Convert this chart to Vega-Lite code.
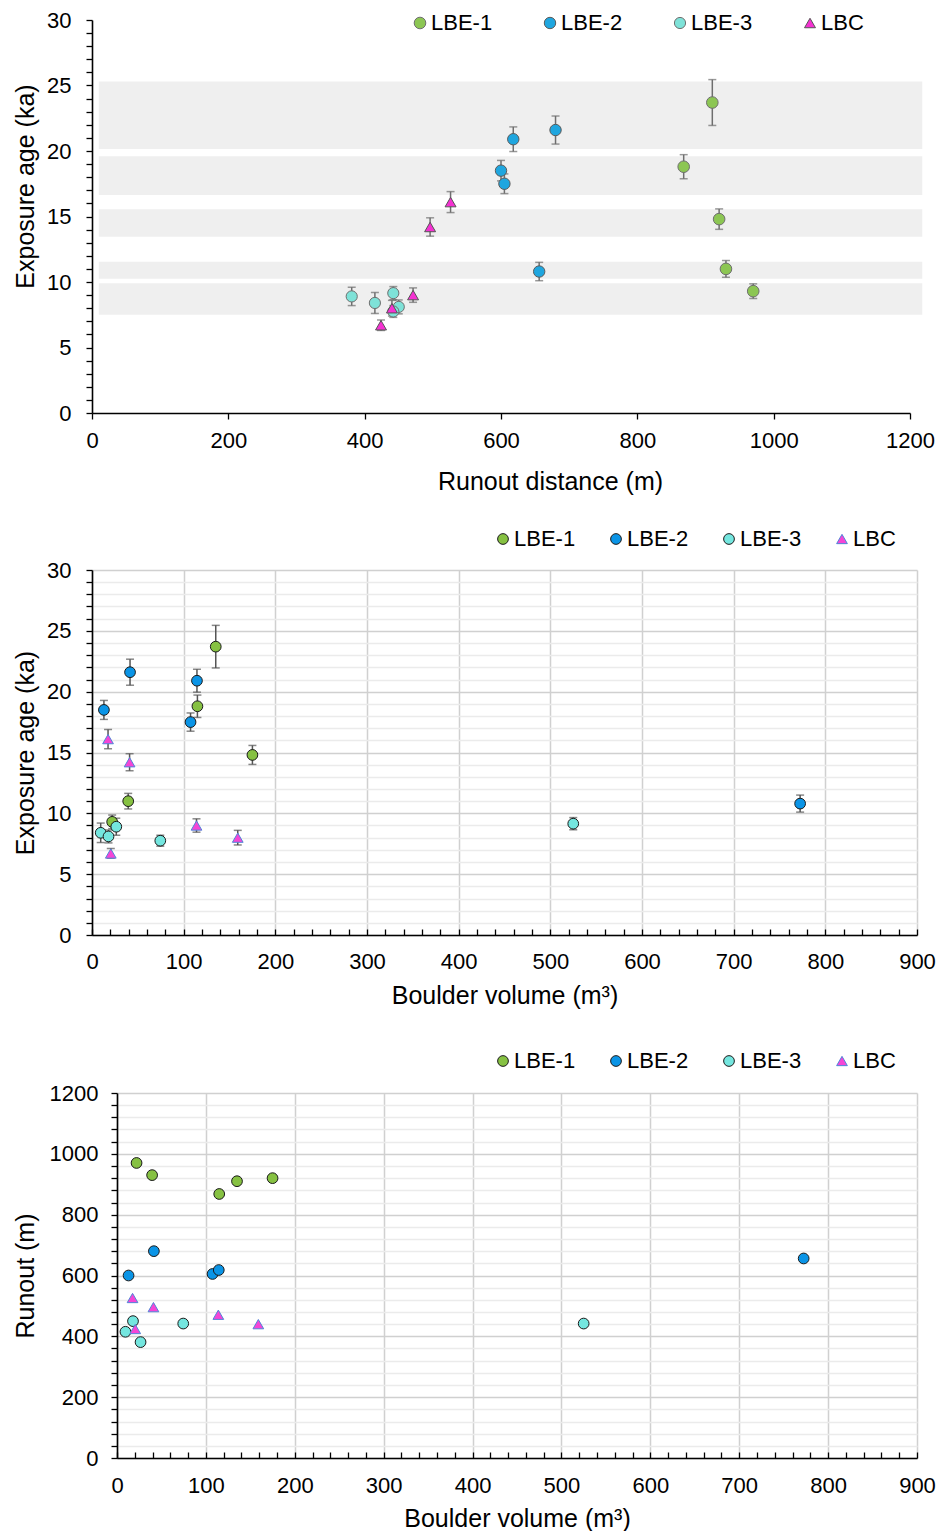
{
  "$schema": "https://vega.github.io/schema/vega-lite/v6.json",
  "padding": {"left": 12, "top": 9, "right": 2, "bottom": 0},
  "config": {
    "view": {"stroke": null},
    "font": "Liberation Sans",
    "axis": {"labelFont": "Liberation Sans", "titleFont": "Liberation Sans", "labelFontSize": 22, "titleFontSize": 25, "titleFontWeight": "normal", "labelColor": "#000", "titleColor": "#000", "domainColor": "#000", "domainWidth": 1.6, "tickColor": "#000", "tickWidth": 1.3, "labelFlush": false, "labelOverlap": false, "labelBound": false, "minExtent": 0, "format": "d"},
    "legend": {"labelFont": "Liberation Sans", "labelFontSize": 22, "labelColor": "#000"}
  },
  "datasets": {
    "samples": [
      {"group": "LBE-1", "runout": 970, "age": 9.3, "err": 0.56, "volume": 22},
      {"group": "LBE-1", "runout": 930, "age": 11.0, "err": 0.64, "volume": 39.5},
      {"group": "LBE-1", "runout": 868, "age": 18.8, "err": 0.92, "volume": 115},
      {"group": "LBE-1", "runout": 910, "age": 23.7, "err": 1.75, "volume": 135},
      {"group": "LBE-1", "runout": 920, "age": 14.8, "err": 0.78, "volume": 175},
      {"group": "LBE-2", "runout": 600, "age": 18.5, "err": 0.78, "volume": 13},
      {"group": "LBE-2", "runout": 680, "age": 21.6, "err": 1.07, "volume": 41.5},
      {"group": "LBE-2", "runout": 605, "age": 17.5, "err": 0.75, "volume": 107.5},
      {"group": "LBE-2", "runout": 618, "age": 20.9, "err": 0.94, "volume": 114.5},
      {"group": "LBE-2", "runout": 656, "age": 10.8, "err": 0.7, "volume": 772.5},
      {"group": "LBE-3", "runout": 415, "age": 8.4, "err": 0.8, "volume": 9.5},
      {"group": "LBE-3", "runout": 450, "age": 8.1, "err": 0.53, "volume": 18},
      {"group": "LBE-3", "runout": 381, "age": 8.9, "err": 0.7, "volume": 26.5},
      {"group": "LBE-3", "runout": 442, "age": 7.75, "err": 0.45, "volume": 74.5},
      {"group": "LBE-3", "runout": 442, "age": 9.15, "err": 0.5, "volume": 525},
      {"group": "LBC", "runout": 526, "age": 16.1, "err": 0.8, "volume": 17.5},
      {"group": "LBC", "runout": 496, "age": 14.2, "err": 0.7, "volume": 41},
      {"group": "LBC", "runout": 471, "age": 9.0, "err": 0.55, "volume": 114},
      {"group": "LBC", "runout": 440, "age": 8.0, "err": 0.6, "volume": 159},
      {"group": "LBC", "runout": 424, "age": 6.7, "err": 0.4, "volume": 20.5}
    ],
    "bands": [
      {"lo": 7.5, "hi": 9.9},
      {"lo": 10.25, "hi": 11.55},
      {"lo": 13.45, "hi": 15.55},
      {"lo": 16.65, "hi": 19.6},
      {"lo": 20.15, "hi": 25.3}
    ]
  },
  "spacing": 34,
  "resolve": {
    "scale": {"x": "independent", "y": "independent", "color": "independent", "shape": "independent", "stroke": "independent", "size": "independent"},
    "legend": {"color": "independent", "shape": "independent", "stroke": "independent", "size": "independent"}
  },
  "vconcat": [
    {
      "spacing": 0,
      "resolve": {
        "scale": {"x": "independent", "y": "independent", "color": "independent", "shape": "independent", "stroke": "independent", "size": "independent"},
        "legend": {"color": "independent", "shape": "independent", "stroke": "independent", "size": "independent"}
      },
      "hconcat": [
        {"width": 1, "height": 1, "data": {"values": []}, "mark": {"type": "rect", "opacity": 0}, "encoding": {}},
        {
          "width": 818,
          "height": 393,
          "layer": [
            {
              "data": {"name": "bands"},
              "mark": {"type": "rect", "color": "#efefef"},
              "encoding": {
                "x": {"datum": 10, "type": "quantitative", "scale": {"domain": [0, 1200], "nice": false, "zero": false},
                  "axis": {"title": "Runout distance (m)", "values": [0, 200, 400, 600, 800, 1000, 1200], "grid": false, "tickSize": 6, "labelPadding": 11, "titlePadding": 18, "titleX": 458, "labelOverlap": false}},
                "x2": {"datum": 1218},
                "y": {"field": "lo", "type": "quantitative", "scale": {"domain": [0, 30], "nice": false, "zero": false},
                  "axis": {"title": "Exposure age (ka)", "values": [0,1,2,3,4,5,6,7,8,9,10,11,12,13,14,15,16,17,18,19,20,21,22,23,24,25,26,27,28,29,30], "labelExpr": "datum.value % 5 === 0 ? datum.label : ''", "grid": false, "tickSize": 6, "labelPadding": 15, "titlePadding": 8, "titleY": 166, "labelOverlap": false}},
                "y2": {"field": "hi"}
              }
            },
            {
              "data": {"name": "samples"},
              "mark": {"type": "errorbar", "color": "#6e6e6e", "thickness": 1.5, "size": 8, "ticks": true},
              "encoding": {
                "x": {"field": "runout", "type": "quantitative", "scale": {"domain": [0, 1200], "nice": false, "zero": false},
                  "axis": {"title": "Runout distance (m)", "values": [0, 200, 400, 600, 800, 1000, 1200], "grid": false, "tickSize": 6, "labelPadding": 11, "titlePadding": 18, "titleX": 458, "labelOverlap": false}},
                "y": {"field": "age", "type": "quantitative", "scale": {"domain": [0, 30], "nice": false, "zero": false},
                  "axis": {"title": "Exposure age (ka)", "values": [0,1,2,3,4,5,6,7,8,9,10,11,12,13,14,15,16,17,18,19,20,21,22,23,24,25,26,27,28,29,30], "labelExpr": "datum.value % 5 === 0 ? datum.label : ''", "grid": false, "tickSize": 6, "labelPadding": 15, "titlePadding": 8, "titleY": 166, "labelOverlap": false}},
                "yError": {"field": "err"}
              }
            },
            {
              "data": {"name": "samples"},
              "mark": {"type": "point", "filled": true, "opacity": 1, "strokeWidth": 1},
              "encoding": {
                "x": {"field": "runout", "type": "quantitative", "scale": {"domain": [0, 1200], "nice": false, "zero": false},
                  "axis": {"title": "Runout distance (m)", "values": [0, 200, 400, 600, 800, 1000, 1200], "grid": false, "tickSize": 6, "labelPadding": 11, "titlePadding": 18, "titleX": 458, "labelOverlap": false}},
                "y": {"field": "age", "type": "quantitative", "scale": {"domain": [0, 30], "nice": false, "zero": false},
                  "axis": {"title": "Exposure age (ka)", "values": [0,1,2,3,4,5,6,7,8,9,10,11,12,13,14,15,16,17,18,19,20,21,22,23,24,25,26,27,28,29,30], "labelExpr": "datum.value % 5 === 0 ? datum.label : ''", "grid": false, "tickSize": 6, "labelPadding": 15, "titlePadding": 8, "titleY": 166, "labelOverlap": false}},
                "color": {"field": "group", "type": "nominal", "scale": {"domain": ["LBE-1", "LBE-2", "LBE-3", "LBC"], "range": ["#8cc653", "#1fa6df", "#7ee2d8", "#f531d2"]},
                  "legend": {"title": null, "orient": "none", "legendX": 317, "legendY": -8, "direction": "horizontal", "gridAlign": "all", "columnPadding": 46, "labelOffset": 0, "symbolStrokeWidth": 1, "padding": 0}},
                "shape": {"field": "group", "type": "nominal", "scale": {"domain": ["LBE-1", "LBE-2", "LBE-3", "LBC"], "range": ["circle", "circle", "circle", "triangle-up"]},
                  "legend": {"title": null, "orient": "none", "legendX": 317, "legendY": -8, "direction": "horizontal", "gridAlign": "all", "columnPadding": 46, "labelOffset": 0, "symbolStrokeWidth": 1, "padding": 0}},
                "stroke": {"field": "group", "type": "nominal", "scale": {"domain": ["LBE-1", "LBE-2", "LBE-3", "LBC"], "range": ["#6e6e6e", "#5a5a5a", "#6e6e6e", "#555555"]},
                  "legend": {"title": null, "orient": "none", "legendX": 317, "legendY": -8, "direction": "horizontal", "gridAlign": "all", "columnPadding": 46, "labelOffset": 0, "symbolStrokeWidth": 1, "padding": 0}},
                "size": {"field": "group", "type": "nominal", "scale": {"domain": ["LBE-1", "LBE-2", "LBE-3", "LBC"], "range": [135, 120, 120, 300]},
                  "legend": {"title": null, "orient": "none", "legendX": 317, "legendY": -8, "direction": "horizontal", "gridAlign": "all", "columnPadding": 46, "labelOffset": 0, "symbolStrokeWidth": 1, "padding": 0}}
              }
            }
          ]
        }
      ]
    },
    {
      "spacing": 0,
      "resolve": {
        "scale": {"x": "independent", "y": "independent", "color": "independent", "shape": "independent", "stroke": "independent", "size": "independent"},
        "legend": {"color": "independent", "shape": "independent", "stroke": "independent", "size": "independent"}
      },
      "hconcat": [
        {"width": 1, "height": 1, "data": {"values": []}, "mark": {"type": "rect", "opacity": 0}, "encoding": {}},
        {
          "width": 825,
          "height": 365,
          "data": {"name": "samples"},
          "encoding": {
            "x": {"field": "volume", "type": "quantitative", "scale": {"domain": [0, 900], "nice": false, "zero": false},
              "axis": {"title": "Boulder volume (m³)", "values": [0,20,40,60,80,100,120,140,160,180,200,220,240,260,280,300,320,340,360,380,400,420,440,460,480,500,520,540,560,580,600,620,640,660,680,700,720,740,760,780,800,820,840,860,880,900], "labelExpr": "datum.value % 100 === 0 ? datum.label : ''", "grid": true, "gridColor": {"condition": {"test": "datum.value % 100 === 0", "value": "#d0d0d0"}, "value": "transparent"}, "gridWidth": 1.5, "tickSize": -6, "labelPadding": 22, "titlePadding": 11, "labelOverlap": false}},
            "y": {"field": "age", "type": "quantitative", "scale": {"domain": [0, 30], "nice": false, "zero": false},
              "axis": {"title": "Exposure age (ka)", "values": [0,1,2,3,4,5,6,7,8,9,10,11,12,13,14,15,16,17,18,19,20,21,22,23,24,25,26,27,28,29,30], "labelExpr": "datum.value % 5 === 0 ? datum.label : ''", "grid": true, "gridColor": {"condition": {"test": "datum.value % 5 === 0", "value": "#d0d0d0"}, "value": "#ebebeb"}, "gridWidth": 1.4, "tickSize": 6, "labelPadding": 15, "titlePadding": 8, "labelOverlap": false}}
          },
          "layer": [
            {
              "mark": {"type": "errorbar", "color": "#555555", "thickness": 1.5, "size": 8, "ticks": true},
              "encoding": {
                "yError": {"field": "err"}
              }
            },
            {
              "mark": {"type": "point", "filled": true, "opacity": 1, "strokeWidth": 1},
              "encoding": {
                "color": {"field": "group", "type": "nominal", "scale": {"domain": ["LBE-1", "LBE-2", "LBE-3", "LBC"], "range": ["#86c142", "#0a94e6", "#74e6df", "#f545d6"]},
                  "legend": {"title": null, "orient": "none", "legendX": 400, "legendY": -42, "direction": "horizontal", "gridAlign": "all", "columnPadding": 29, "labelOffset": 0, "symbolStrokeWidth": 1, "padding": 0}},
                "shape": {"field": "group", "type": "nominal", "scale": {"domain": ["LBE-1", "LBE-2", "LBE-3", "LBC"], "range": ["circle", "circle", "circle", "triangle-up"]},
                  "legend": {"title": null, "orient": "none", "legendX": 400, "legendY": -42, "direction": "horizontal", "gridAlign": "all", "columnPadding": 29, "labelOffset": 0, "symbolStrokeWidth": 1, "padding": 0}},
                "stroke": {"field": "group", "type": "nominal", "scale": {"domain": ["LBE-1", "LBE-2", "LBE-3", "LBC"], "range": ["#1a1a1a", "#1a1a1a", "#1a1a1a", "#4f86d8"]},
                  "legend": {"title": null, "orient": "none", "legendX": 400, "legendY": -42, "direction": "horizontal", "gridAlign": "all", "columnPadding": 29, "labelOffset": 0, "symbolStrokeWidth": 1, "padding": 0}},
                "size": {"field": "group", "type": "nominal", "scale": {"domain": ["LBE-1", "LBE-2", "LBE-3", "LBC"], "range": [115, 115, 115, 280]},
                  "legend": {"title": null, "orient": "none", "legendX": 400, "legendY": -42, "direction": "horizontal", "gridAlign": "all", "columnPadding": 29, "labelOffset": 0, "symbolStrokeWidth": 1, "padding": 0}}
              }
            }
          ]
        }
      ]
    },
    {
      "spacing": 0,
      "resolve": {
        "scale": {"x": "independent", "y": "independent", "color": "independent", "shape": "independent", "stroke": "independent", "size": "independent"},
        "legend": {"color": "independent", "shape": "independent", "stroke": "independent", "size": "independent"}
      },
      "hconcat": [
        {"width": 1, "height": 1, "data": {"values": []}, "mark": {"type": "rect", "opacity": 0}, "encoding": {}},
        {
          "width": 800,
          "height": 365,
          "data": {"name": "samples"},
          "mark": {"type": "point", "filled": true, "opacity": 1, "strokeWidth": 1},
          "encoding": {
            "x": {"field": "volume", "type": "quantitative", "scale": {"domain": [0, 900], "nice": false, "zero": false},
              "axis": {"title": "Boulder volume (m³)", "values": [0,20,40,60,80,100,120,140,160,180,200,220,240,260,280,300,320,340,360,380,400,420,440,460,480,500,520,540,560,580,600,620,640,660,680,700,720,740,760,780,800,820,840,860,880,900], "labelExpr": "datum.value % 100 === 0 ? datum.label : ''", "grid": true, "gridColor": {"condition": {"test": "datum.value % 100 === 0", "value": "#d0d0d0"}, "value": "transparent"}, "gridWidth": 1.5, "tickSize": -6, "labelPadding": 23, "titlePadding": 10, "labelOverlap": false}},
            "y": {"field": "runout", "type": "quantitative", "scale": {"domain": [0, 1200], "nice": false, "zero": false},
              "axis": {"title": "Runout (m)", "values": [0,40,80,120,160,200,240,280,320,360,400,440,480,520,560,600,640,680,720,760,800,840,880,920,960,1000,1040,1080,1120,1160,1200], "labelExpr": "datum.value % 200 === 0 ? datum.label : ''", "grid": true, "gridColor": {"condition": {"test": "datum.value % 200 === 0", "value": "#d0d0d0"}, "value": "#ebebeb"}, "gridWidth": 1.4, "tickSize": 6, "labelPadding": 13, "titlePadding": 11, "labelOverlap": false}},
            "color": {"field": "group", "type": "nominal", "scale": {"domain": ["LBE-1", "LBE-2", "LBE-3", "LBC"], "range": ["#86c142", "#0a94e6", "#74e6df", "#f545d6"]},
              "legend": {"title": null, "orient": "none", "legendX": 367, "legendY": -51, "direction": "horizontal", "gridAlign": "all", "columnPadding": 29, "labelOffset": 0, "symbolStrokeWidth": 1, "padding": 8}},
            "shape": {"field": "group", "type": "nominal", "scale": {"domain": ["LBE-1", "LBE-2", "LBE-3", "LBC"], "range": ["circle", "circle", "circle", "triangle-up"]},
              "legend": {"title": null, "orient": "none", "legendX": 367, "legendY": -51, "direction": "horizontal", "gridAlign": "all", "columnPadding": 29, "labelOffset": 0, "symbolStrokeWidth": 1, "padding": 8}},
            "stroke": {"field": "group", "type": "nominal", "scale": {"domain": ["LBE-1", "LBE-2", "LBE-3", "LBC"], "range": ["#1a1a1a", "#1a1a1a", "#1a1a1a", "#4f86d8"]},
              "legend": {"title": null, "orient": "none", "legendX": 367, "legendY": -51, "direction": "horizontal", "gridAlign": "all", "columnPadding": 29, "labelOffset": 0, "symbolStrokeWidth": 1, "padding": 8}},
            "size": {"field": "group", "type": "nominal", "scale": {"domain": ["LBE-1", "LBE-2", "LBE-3", "LBC"], "range": [115, 115, 115, 280]},
              "legend": {"title": null, "orient": "none", "legendX": 367, "legendY": -51, "direction": "horizontal", "gridAlign": "all", "columnPadding": 29, "labelOffset": 0, "symbolStrokeWidth": 1, "padding": 8}}
          }
        }
      ]
    }
  ]
}
